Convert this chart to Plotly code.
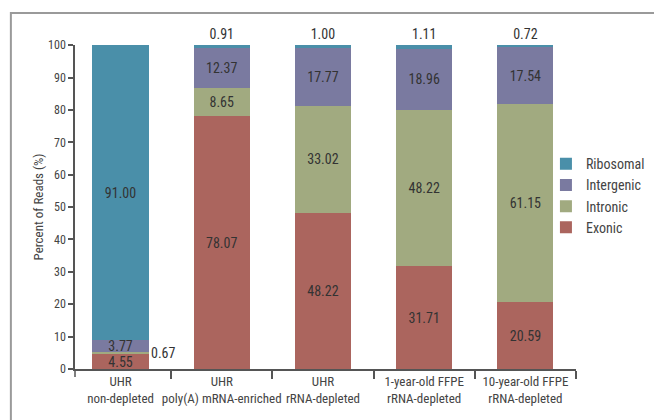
import plotly.graph_objects as go

categories = ["UHR<br>non-depleted", "UHR<br>poly(A) mRNA-enriched", "UHR<br>rRNA-depleted",
              "1-year-old FFPE<br>rRNA-depleted", "10-year-old FFPE<br>rRNA-depleted"]
exonic = [4.55, 78.07, 48.22, 31.71, 20.59]
intronic = [0.67, 8.65, 33.02, 48.22, 61.15]
intergenic = [3.77, 12.37, 17.77, 18.96, 17.54]
ribosomal = [91.00, 0.91, 1.00, 1.11, 0.72]
y_ticks = list(range(0, 101, 10))

colors = {"Exonic": "#ab655e", "Intronic": "#a1aa80", "Intergenic": "#7a7aa0", "Ribosomal": "#4a8fa9"}
FONT = "Liberation Sans Narrow, Roboto Condensed, DejaVu Sans Condensed, Arial Narrow, sans-serif"
TXT = "#333333"

fig = go.Figure()

def fmt(v):
    return f"{v:.2f}"

fig.add_bar(name="Exonic", x=categories, y=exonic, marker_color=colors["Exonic"],
            text=[fmt(v) for v in exonic], textposition="inside", insidetextanchor="middle")
fig.add_bar(name="Intronic", x=categories, y=intronic, marker_color=colors["Intronic"],
            text=["" if i == 0 else fmt(v) for i, v in enumerate(intronic)],
            textposition="inside", insidetextanchor="middle")
fig.add_bar(name="Intergenic", x=categories, y=intergenic, marker_color=colors["Intergenic"],
            text=[fmt(v) for v in intergenic], textposition="inside", insidetextanchor="middle")
fig.add_bar(name="Ribosomal", x=categories, y=ribosomal, marker_color=colors["Ribosomal"],
            text=[fmt(v) for v in ribosomal],
            textposition=["inside", "outside", "outside", "outside", "outside"],
            insidetextanchor="middle", cliponaxis=False)

fig.update_traces(width=0.555, marker_line_width=0,
                  textfont=dict(family=FONT, size=14, color=TXT),
                  insidetextfont=dict(family=FONT, size=14, color=TXT),
                  outsidetextfont=dict(family=FONT, size=14, color=TXT),
                  constraintext="none")

# label for the tiny intronic slice of the first bar, placed to its right
fig.add_annotation(x=categories[0], y=exonic[0] + intronic[0] / 2, text=fmt(intronic[0]),
                   showarrow=False, xshift=43, font=dict(family=FONT, size=14, color=TXT))

# outer frame
fig.add_shape(type="rect", xref="paper", yref="paper", x0=-0.128, x1=2, y0=-1, y1=1.099,
              line=dict(color="#9a9a9a", width=2), fillcolor="rgba(0,0,0,0)", layer="below")
# left boundary tick of x axis
fig.add_shape(type="line", xref="paper", yref="paper", x0=0, x1=0, y0=0, y1=-8 / 324,
              line=dict(color="#555555", width=1.5))

fig.update_layout(
    width=662, height=420,
    barmode="stack",
    plot_bgcolor="white", paper_bgcolor="white",
    margin=dict(l=67, r=94, t=37, b=59, autoexpand=False),
    font=dict(family=FONT, size=13, color="#444444"),
    uniformtext=dict(mode="show", minsize=14),
    showlegend=True,
    legend=dict(traceorder="reversed", x=0.940, xanchor="left", y=0.535, yanchor="middle",
                font=dict(family=FONT, size=14, color="#444444"), tracegroupgap=0,
                bgcolor="rgba(0,0,0,0)", itemwidth=30),
    xaxis=dict(range=[-0.45, 4.5], tickson="boundaries", ticks="outside", ticklen=8, tickangle=0,
               automargin=False,
               tickcolor="#555555", tickwidth=1.5, showline=True, linecolor="#555555", linewidth=1.5,
               showgrid=False, tickfont=dict(family=FONT, size=13, color="#444444")),
    yaxis=dict(range=[0, 100.05], tickvals=y_ticks, ticks="outside", ticklen=5, tickcolor="#555555",
               tickwidth=1.5, showline=True, linecolor="#555555", linewidth=1.5, showgrid=False,
               zeroline=False, automargin=False, tickfont=dict(family=FONT, size=12, color="#444444"),
               title=dict(text="Percent of Reads (%)", font=dict(family=FONT, size=13, color="#444444"),
                          standoff=2)),
)

fig.write_html("out.html")
